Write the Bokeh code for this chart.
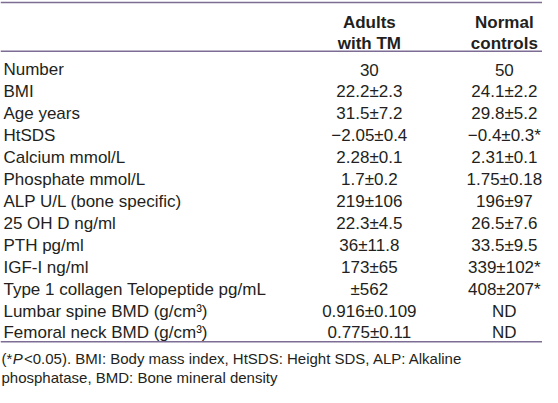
from bokeh.plotting import figure
from bokeh.models import ColumnDataSource, Range1d, Span
from bokeh.core.properties import value
from bokeh.embed import file_html
from bokeh.resources import INLINE

# ---- table content ----
row_labels = [
    "Number", "BMI", "Age years", "HtSDS", "Calcium mmol/L", "Phosphate mmol/L",
    "ALP U/L (bone specific)", "25 OH D ng/ml", "PTH pg/ml", "IGF-I ng/ml",
    "Type 1 collagen Telopeptide pg/mL", "Lumbar spine BMD (g/cm\u00b3)",
    "Femoral neck BMD (g/cm\u00b3)",
]
adults_tm = [
    "30", "22.2\u00b12.3", "31.5\u00b17.2", "\u22122.05\u00b10.4", "2.28\u00b10.1",
    "1.7\u00b10.2", "219\u00b1106", "22.3\u00b14.5", "36\u00b111.8", "173\u00b165",
    "\u00b1562", "0.916\u00b10.109", "0.775\u00b10.11",
]
normal_controls = [
    "50", "24.1\u00b12.2", "29.8\u00b15.2", "\u22120.4\u00b10.3*", "2.31\u00b10.1",
    "1.75\u00b10.18", "196\u00b197", "26.5\u00b17.6", "33.5\u00b19.5", "339\u00b1102*",
    "408\u00b1207*", "ND", "ND",
]
header_line1 = ["Adults", "Normal"]
header_line2 = ["with TM", "controls"]
footnote_line1 = ["(*", "P", "<0.05). BMI: Body mass index, HtSDS: Height SDS, ALP: Alkaline"]
footnote_line2 = ["phosphatase, BMD: Bone mineral density"]

# ---- layout (reference pixel space, y downwards) ----
FONT = value("Liberation Sans")
TXT = "#231f20"
RULE = "#7d6c94"
label_x = 3
col_x = [377, 515]
row_y = [71.5 + 22.95 * i for i in range(len(row_labels))]

p = figure(width=542, height=387, x_range=Range1d(0, 554), y_range=Range1d(404, -1),
           output_backend="svg", toolbar_location=None, min_border=0,
           x_axis_location=None, y_axis_location=None)
p.grid.visible = False
p.outline_line_color = None
p.background_fill_color = "white"
p.border_fill_color = "white"

for loc in (1.2, 52, 356):
    p.add_layout(Span(location=loc, dimension="width", line_color=RULE, line_width=1.5))

common = dict(text_font=FONT, text_color=TXT, text_baseline="alphabetic")

# headers
hdr = ColumnDataSource(dict(x=col_x + col_x, y=[22, 22, 44, 44],
                            t=header_line1 + header_line2))
p.text(x="x", y="y", text="t", source=hdr, text_align="center",
       text_font_size="17px", text_font_style="bold", **common)

# row labels
lab = ColumnDataSource(dict(x=[label_x] * len(row_labels), y=row_y, t=row_labels))
p.text(x="x", y="y", text="t", source=lab, text_align="left",
       text_font_size="17px", **common)

# values
vals = ColumnDataSource(dict(x=[col_x[0]] * len(adults_tm) + [col_x[1]] * len(normal_controls),
                             y=row_y + row_y, t=adults_tm + normal_controls))
p.text(x="x", y="y", text="t", source=vals, text_align="center",
       text_font_size="17px", **common)

# footnote
p.text(x=[1], y=[374], text=[footnote_line1[0]], text_align="left",
       text_font_size="15px", **common)
p.text(x=[12.5], y=[374], text=[footnote_line1[1]], text_align="left",
       text_font_size="15px", text_font_style="italic", **common)
p.text(x=[24], y=[374], text=[footnote_line1[2]], text_align="left",
       text_font_size="15px", **common)
p.text(x=[1], y=[394], text=footnote_line2, text_align="left",
       text_font_size="15px", **common)

open("out.html", "w").write(file_html(p, INLINE))
